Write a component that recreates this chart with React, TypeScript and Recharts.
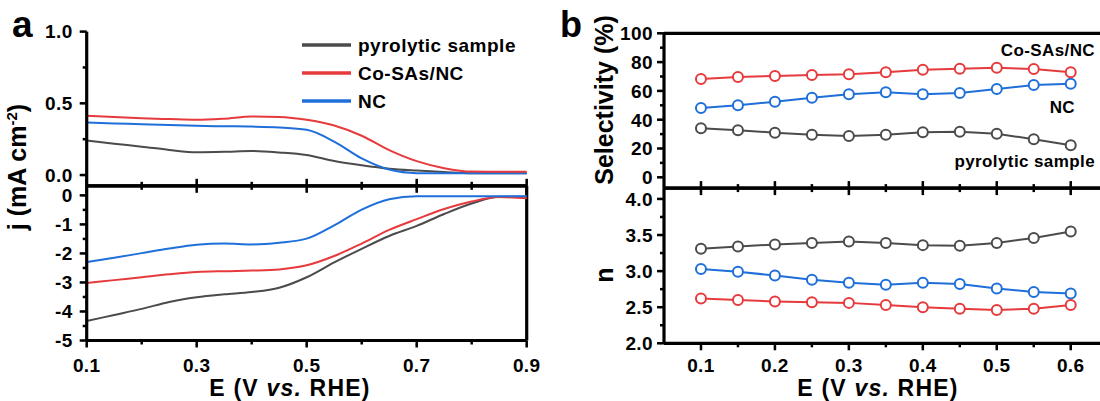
import { LineChart, Line, XAxis, YAxis, ReferenceLine } from 'recharts';

const FONT = '"Liberation Sans", Arial, sans-serif';
const C_PYRO = '#4b4b4b';
const C_CO = '#e63a3d';
const C_NC = '#1f6fda';

// (a) LSV curves, potential grid
const eLsv = [0.1, 0.15, 0.2, 0.25, 0.3, 0.35, 0.4, 0.45, 0.5, 0.55, 0.6, 0.65, 0.7, 0.75, 0.8, 0.85, 0.9];
// ring current (upper plot)
const ringCo = [0.413, 0.404, 0.396, 0.39, 0.385, 0.393, 0.408, 0.405, 0.385, 0.345, 0.274, 0.174, 0.097, 0.048, 0.024, 0.023, 0.023];
const ringNC = [0.366, 0.36, 0.354, 0.348, 0.343, 0.34, 0.338, 0.332, 0.315, 0.233, 0.116, 0.038, 0.013, 0.012, 0.012, 0.012, 0.012];
const ringPyro = [0.24, 0.218, 0.198, 0.175, 0.159, 0.162, 0.168, 0.158, 0.14, 0.098, 0.068, 0.044, 0.031, 0.021, 0.013, 0.012, 0.012];
// disk current (lower plot)
const diskNC = [-2.3, -2.15, -1.99, -1.83, -1.7, -1.66, -1.69, -1.63, -1.49, -1.03, -0.49, -0.13, -0.03, -0.03, -0.03, -0.03, -0.03];
const diskCo = [-3.02, -2.92, -2.82, -2.72, -2.64, -2.61, -2.59, -2.55, -2.41, -2.09, -1.66, -1.19, -0.82, -0.47, -0.21, -0.06, -0.1];
const diskPyro = [-4.33, -4.12, -3.91, -3.67, -3.51, -3.41, -3.33, -3.18, -2.82, -2.31, -1.84, -1.4, -1.05, -0.64, -0.28, -0.05, -0.05];

// (b) selectivity and electron transfer number
const eSel = [0.1, 0.15, 0.2, 0.25, 0.3, 0.35, 0.4, 0.45, 0.5, 0.55, 0.6];
const selCo = [68.3, 69.7, 70.3, 71.0, 71.5, 72.9, 74.7, 75.4, 76.1, 75.2, 72.9];
const selNC = [48.1, 50.0, 52.5, 55.3, 57.6, 59.0, 57.6, 58.5, 61.3, 64.1, 65.0];
const selPyro = [34.0, 32.6, 31.0, 29.6, 28.7, 29.6, 31.3, 31.7, 30.3, 26.4, 22.2];
const nPyro = [3.31, 3.34, 3.37, 3.39, 3.41, 3.39, 3.36, 3.35, 3.39, 3.46, 3.55];
const nNC = [3.03, 2.99, 2.94, 2.88, 2.84, 2.81, 2.84, 2.82, 2.76, 2.71, 2.69];
const nCo = [2.62, 2.6, 2.58, 2.57, 2.56, 2.53, 2.5, 2.48, 2.46, 2.48, 2.53];

// tick values
const xTicksA = [0.1, 0.2, 0.3, 0.4, 0.5, 0.6, 0.7, 0.8, 0.9];
const yTicksRing = [0, 0.25, 0.5, 0.75, 1.0];
const yTicksDisk = [0, -0.5, -1, -1.5, -2, -2.5, -3, -3.5, -4, -4.5, -5];
const xTicksB = [0.1, 0.15, 0.2, 0.25, 0.3, 0.35, 0.4, 0.45, 0.5, 0.55, 0.6];
const yTicksSel = [0, 10, 20, 30, 40, 50, 60, 70, 80, 90, 100];
const yTicksN = [2.0, 2.25, 2.5, 2.75, 3.0, 3.25, 3.5, 3.75, 4.0];

const lsvData = eLsv.map((e, i) => ({ e, rCo: ringCo[i], rNC: ringNC[i], rPyro: ringPyro[i], dCo: diskCo[i], dNC: diskNC[i], dPyro: diskPyro[i] }));
const selData = eSel.map((e, i) => ({ e, sCo: selCo[i], sNC: selNC[i], sPyro: selPyro[i], nCo: nCo[i], nNC: nNC[i], nPyro: nPyro[i] }));

const near = (a: number, b: number) => Math.abs(a - b) < 1e-6;
const tickText = { fontFamily: FONT, fontWeight: 700, fontSize: 19, fill: '#000' } as const;

// minor tick length from the built-in tick line, majors get extended in the tick renderer
const MINOR = 4;
const EXTRA = 3.5;
const ax = {
  axisLine: { stroke: '#000', strokeWidth: 3.2 },
  tickLine: { stroke: '#000', strokeWidth: 2.5 },
  tickSize: MINOR,
  tickMargin: 0,
  interval: 0,
} as const;
const frame = { stroke: '#000', strokeWidth: 3.2, ifOverflow: 'visible' as const };

function xTick(side: 'up' | 'down', isMajor: (v: number) => boolean, withLabel: boolean, dy = 31) {
  return (p: any) => {
    const x = Number(p.x);
    const y = Number(p.y); // end of the built-in tick line
    const v = p.payload.value as number;
    const big = isMajor(v);
    const axisY = side === 'down' ? y - MINOR : y + MINOR;
    return (
      <g>
        {big && <rect x={x - 1.25} y={side === 'down' ? y - 0.5 : y - EXTRA + 0.5} width={2.5} height={EXTRA} fill="#000" />}
        {withLabel && big && (
          <text x={x} y={axisY + dy} textAnchor="middle" {...tickText} letterSpacing={0.4}>
            {v.toFixed(1)}
          </text>
        )}
      </g>
    );
  };
}

function yTick(isMajor: (v: number) => boolean, fmt: (v: number) => string, gap = 13) {
  return (p: any) => {
    const x = Number(p.x);
    const y = Number(p.y);
    const v = p.payload.value as number;
    const big = isMajor(v);
    const axisX = x + MINOR;
    return (
      <g>
        {big && <rect x={x - EXTRA + 0.5} y={y - 1.25} width={EXTRA} height={2.5} fill="#000" />}
        {big && (
          <text x={axisX - gap} y={y + 6.8} textAnchor="end" {...tickText} letterSpacing={0.4}>
            {fmt(v)}
          </text>
        )}
      </g>
    );
  };
}

const majorA = (v: number) => Math.round(v * 10) % 2 === 1;
const majorB = (v: number) => near(v * 10, Math.round(v * 10));
const half = (v: number) => near(v * 2, Math.round(v * 2));

export default function App() {
  return (
    <div style={{ position: 'fixed', left: 0, top: 0, width: 1100, height: 401, overflow: 'hidden', background: '#fff' }}>
      {/* (a) upper: ring current */}
      <div style={{ position: 'absolute', left: 0, top: 0 }}>
        <LineChart width={560} height={200} data={lsvData} margin={{ top: 31.6, right: 33.3, bottom: 13.2, left: 0 }}>
          <XAxis {...ax} type="number" dataKey="e" domain={[0.1, 0.9]} ticks={xTicksA} height={1}
            tick={xTick('down', majorA, false)} />
          <YAxis {...ax} type="number" domain={[-0.075, 1]} ticks={yTicksRing} width={86.7}
            tick={yTick(half, (v) => v.toFixed(1), 14)} />
          <Line type="monotone" dataKey="rPyro" stroke={C_PYRO} strokeWidth={2} dot={false} isAnimationActive={false} />
          <Line type="monotone" dataKey="rNC" stroke={C_NC} strokeWidth={2} dot={false} isAnimationActive={false} />
          <Line type="monotone" dataKey="rCo" stroke={C_CO} strokeWidth={2} dot={false} isAnimationActive={false} />
        </LineChart>
      </div>

      {/* (a) lower: disk current */}
      <div style={{ position: 'absolute', left: 0, top: 170 }}>
        <LineChart width={560} height={231} data={lsvData} margin={{ top: 14.8, right: 33.3, bottom: 59.5, left: 0 }}>
          <XAxis {...ax} xAxisId="t" type="number" dataKey="e" orientation="top" domain={[0.1, 0.9]} ticks={xTicksA} height={1}
            tick={xTick('up', majorA, false)} />
          <XAxis {...ax} xAxisId="b" type="number" dataKey="e" domain={[0.1, 0.9]} ticks={xTicksA} height={1}
            tick={xTick('down', majorA, true, 31.5)} />
          <YAxis {...ax} yAxisId="l" type="number" domain={[-5, 0.33]} ticks={yTicksDisk} width={86.7}
            tick={yTick((v) => near(v, Math.round(v)), (v) => String(v), 14)} />
          <ReferenceLine xAxisId="b" yAxisId="l" x={0.9} {...frame} />
          <Line xAxisId="b" yAxisId="l" type="monotone" dataKey="dPyro" stroke={C_PYRO} strokeWidth={2} dot={false} isAnimationActive={false} />
          <Line xAxisId="b" yAxisId="l" type="monotone" dataKey="dCo" stroke={C_CO} strokeWidth={2} dot={false} isAnimationActive={false} />
          <Line xAxisId="b" yAxisId="l" type="monotone" dataKey="dNC" stroke={C_NC} strokeWidth={2} dot={false} isAnimationActive={false} />
        </LineChart>
      </div>

      {/* (b) upper: selectivity */}
      <div style={{ position: 'absolute', left: 560, top: 0 }}>
        <LineChart width={600} height={200} data={selData} margin={{ top: 33.3, right: 52.3, bottom: 10.9, left: 0 }}>
          <XAxis {...ax} type="number" dataKey="e" domain={[0.05, 0.65]} ticks={xTicksB} height={1}
            tick={xTick('down', majorB, false)} />
          <YAxis {...ax} type="number" domain={[-7.5, 100]} ticks={yTicksSel} width={104}
            tick={yTick((v) => v % 20 === 0, (v) => String(v), 11)} />
          <ReferenceLine y={100} {...frame} />
          <Line type="linear" dataKey="sPyro" stroke={C_PYRO} strokeWidth={2}
            dot={{ r: 5, fill: '#fff', stroke: C_PYRO, strokeWidth: 2 }} isAnimationActive={false} />
          <Line type="linear" dataKey="sNC" stroke={C_NC} strokeWidth={2}
            dot={{ r: 5, fill: '#fff', stroke: C_NC, strokeWidth: 2 }} isAnimationActive={false} />
          <Line type="linear" dataKey="sCo" stroke={C_CO} strokeWidth={2}
            dot={{ r: 5, fill: '#fff', stroke: C_CO, strokeWidth: 2 }} isAnimationActive={false} />
        </LineChart>
      </div>

      {/* (b) lower: electron transfer number */}
      <div style={{ position: 'absolute', left: 560, top: 172 }}>
        <LineChart width={600} height={229} data={selData} margin={{ top: 15.1, right: 52.3, bottom: 56.7, left: 0 }}>
          <XAxis {...ax} xAxisId="t" type="number" dataKey="e" orientation="top" domain={[0.05, 0.65]} ticks={xTicksB} height={1}
            tick={xTick('up', majorB, false)} />
          <XAxis {...ax} xAxisId="b" type="number" dataKey="e" domain={[0.05, 0.65]} ticks={xTicksB} height={1}
            tick={xTick('down', majorB, true, 28.5)} />
          <YAxis {...ax} type="number" domain={[2, 4.15]} ticks={yTicksN} width={104}
            tick={yTick(half, (v) => v.toFixed(1), 11)} />
          <Line xAxisId="b" type="linear" dataKey="nPyro" stroke={C_PYRO} strokeWidth={2}
            dot={{ r: 5, fill: '#fff', stroke: C_PYRO, strokeWidth: 2 }} isAnimationActive={false} />
          <Line xAxisId="b" type="linear" dataKey="nNC" stroke={C_NC} strokeWidth={2}
            dot={{ r: 5, fill: '#fff', stroke: C_NC, strokeWidth: 2 }} isAnimationActive={false} />
          <Line xAxisId="b" type="linear" dataKey="nCo" stroke={C_CO} strokeWidth={2}
            dot={{ r: 5, fill: '#fff', stroke: C_CO, strokeWidth: 2 }} isAnimationActive={false} />
        </LineChart>
      </div>

      {/* titles, panel letters, legend and labels */}
      <svg width={1100} height={401} style={{ position: 'absolute', left: 0, top: 0, pointerEvents: 'none' }}
        fontFamily={FONT} fontWeight={700} fill="#000">
        <text x={12} y={37} fontSize={37}>a</text>
        <text x={560} y={37} fontSize={36}>b</text>

        <text transform="translate(26,167) rotate(-90)" textAnchor="middle" fontSize={25}>
          j (mA cm<tspan fontSize={15} dy={-9}>-2</tspan><tspan dy={9}>)</tspan>
        </text>
        <text transform="translate(613,100) rotate(-90)" textAnchor="middle" fontSize={25}>Selectivity (%)</text>
        <text transform="translate(613,275) rotate(-90)" textAnchor="middle" fontSize={25}>n</text>

        <text x={290} y={396} textAnchor="middle" fontSize={23} letterSpacing={1.2}>
          E (V <tspan fontStyle="italic">vs.</tspan> RHE)
        </text>
        <text x={878} y={396} textAnchor="middle" fontSize={23} letterSpacing={1.2}>
          E (V <tspan fontStyle="italic">vs.</tspan> RHE)
        </text>

        {/* legend of (a) */}
        <line x1={302} x2={351} y1={45} y2={45} stroke={C_PYRO} strokeWidth={3.5} />
        <text x={358} y={52} fontSize={19} letterSpacing={0.5}>pyrolytic sample</text>
        <line x1={302} x2={351} y1={73} y2={73} stroke={C_CO} strokeWidth={3.5} />
        <text x={358} y={80} fontSize={19} letterSpacing={0.5}>Co-SAs/NC</text>
        <line x1={302} x2={351} y1={101} y2={101} stroke={C_NC} strokeWidth={3.5} />
        <text x={358} y={108} fontSize={19} letterSpacing={0.5}>NC</text>

        {/* series labels of (b) */}
        <text x={1095} y={56} textAnchor="end" fontSize={17} letterSpacing={0.4}>Co-SAs/NC</text>
        <text x={1075} y={113} textAnchor="end" fontSize={17} letterSpacing={0.4}>NC</text>
        <text x={1095} y={167} textAnchor="end" fontSize={17} letterSpacing={0.4}>pyrolytic sample</text>
      </svg>
    </div>
  );
}
